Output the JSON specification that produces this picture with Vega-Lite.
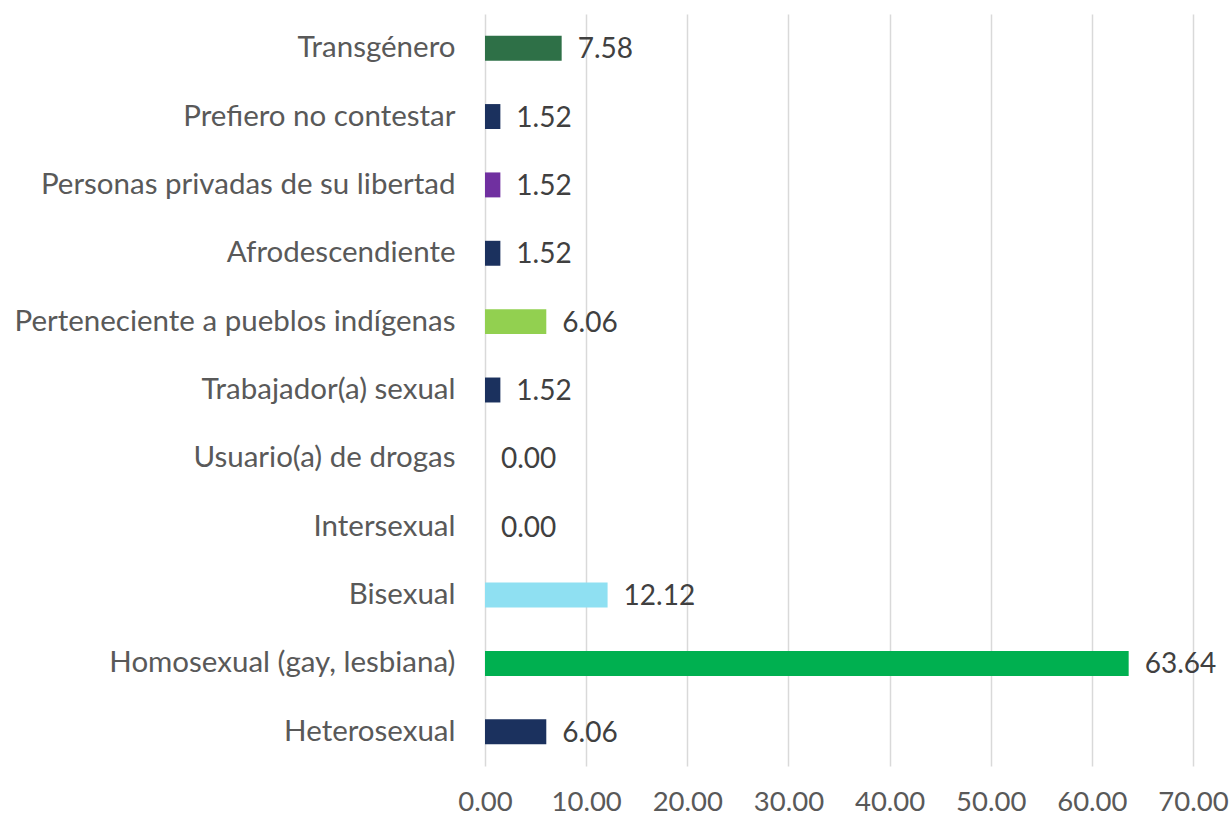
{
  "$schema": "https://vega.github.io/schema/vega-lite/v6.json",
  "autosize": "none",
  "padding": {"left": 485, "top": 14, "right": 39, "bottom": 53},
  "width": 708,
  "height": 752,
  "background": "white",
  "config": {"view": {"stroke": null}, "font": "Lato"},
  "data": {"values": [
    {"grupo": "Transgénero", "valor": 7.58},
    {"grupo": "Prefiero no contestar", "valor": 1.52},
    {"grupo": "Personas privadas de su libertad", "valor": 1.52},
    {"grupo": "Afrodescendiente", "valor": 1.52},
    {"grupo": "Perteneciente a pueblos indígenas", "valor": 6.06},
    {"grupo": "Trabajador(a) sexual", "valor": 1.52},
    {"grupo": "Usuario(a) de drogas", "valor": 0.0},
    {"grupo": "Intersexual", "valor": 0.0},
    {"grupo": "Bisexual", "valor": 12.12},
    {"grupo": "Homosexual (gay, lesbiana)", "valor": 63.64},
    {"grupo": "Heterosexual", "valor": 6.06}
  ]},
  "encoding": {
    "y": {
      "field": "grupo", "type": "nominal", "sort": null,
      "scale": {"paddingInner": 0.635, "paddingOuter": 0.3175},
      "axis": {"title": null, "domain": false, "ticks": false, "grid": false,
               "labelPadding": 30, "labelFontSize": 29.5, "labelColor": "#595959",
               "labelFont": "Lato", "labelLimit": 600,
               "encode": {"labels": {"update": {"dx": {"signal": "indexof(['Transgénero','Perteneciente a pueblos indígenas','Trabajador(a) sexual','Intersexual','Bisexual','Heterosexual'], datum.value) >= 0 ? -9 : 0"}}}}}
    },
    "x": {
      "field": "valor", "type": "quantitative",
      "scale": {"domain": [0, 70], "nice": false},
      "axis": {"title": null, "values": [0, 10, 20, 30, 40, 50, 60, 70], "format": ".2f",
               "domain": false, "ticks": false, "grid": true, "gridColor": "#D9D9D9",
               "gridWidth": 1.5, "labelPadding": 22, "labelFontSize": 27.5,
               "labelColor": "#595959", "labelFont": "Lato", "labelFlush": false}
    }
  },
  "layer": [
    {
      "mark": {"type": "bar"},
      "encoding": {
        "color": {
          "field": "grupo", "type": "nominal", "legend": null,
          "scale": {
            "domain": ["Transgénero", "Prefiero no contestar", "Personas privadas de su libertad", "Afrodescendiente", "Perteneciente a pueblos indígenas", "Trabajador(a) sexual", "Usuario(a) de drogas", "Intersexual", "Bisexual", "Homosexual (gay, lesbiana)", "Heterosexual"],
            "range": ["#2E7047", "#1B315E", "#7030A0", "#1B315E", "#92D050", "#1B315E", "#1B315E", "#1B315E", "#8FE0F2", "#00B050", "#1B315E"]
          }
        }
      }
    },
    {
      "mark": {"type": "text", "align": "left", "baseline": "middle", "dx": 16, "dy": 2,
               "fontSize": 28, "color": "#404040", "font": "Lato"},
      "encoding": {"text": {"field": "valor", "type": "quantitative", "format": ".2f"}}
    }
  ]
}
